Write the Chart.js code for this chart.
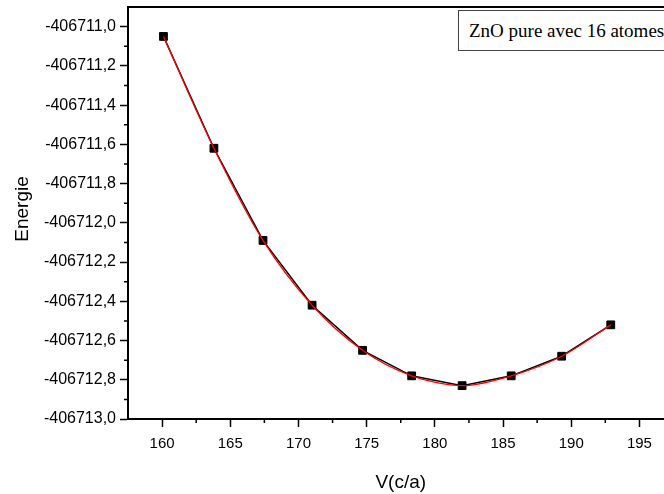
<!DOCTYPE html>
<html>
<head>
<meta charset="utf-8">
<script src="https://cdn.jsdelivr.net/npm/chart.js@4/dist/chart.umd.min.js"></script>
<style>
  html, body { margin: 0; padding: 0; background: #fff; overflow: hidden; width: 664px; height: 494px; }
  #wrap { position: relative; width: 680px; height: 494px; }
  #legendBox {
    position: absolute; left: 458px; top: 10px; width: 240px; height: 41px;
    border: 1px solid #444; background: #fff; box-sizing: border-box;
    font-family: "Liberation Serif", "Times New Roman", serif; font-size: 19px;
    line-height: 39px; padding-left: 10px; white-space: nowrap; color: #000;
  }
</style>
</head>
<body>
<div id="wrap">
  <canvas id="c" width="680" height="494"></canvas>
  <div id="legendBox">ZnO pure avec 16 atomes</div>
</div>
<script>
// ---- data ----
const volumes = [160.1, 163.8, 167.4, 171.0, 174.7, 178.3, 182.0, 185.6, 189.3, 192.9];
const energies = [-406711.05, -406711.62, -406712.09, -406712.42, -406712.65, -406712.78, -406712.83, -406712.78, -406712.68, -406712.52];
const xTickValues = [160, 165, 170, 175, 180, 185, 190, 195];
const xMinorTickValues = [162.5, 167.5, 172.5, 177.5, 182.5, 187.5, 192.5, 197.5];
const yTickValues = [-406713.0, -406712.8, -406712.6, -406712.4, -406712.2, -406712.0, -406711.8, -406711.6, -406711.4, -406711.2, -406711.0];
const yMinorTickValues = [-406712.9, -406712.7, -406712.5, -406712.3, -406712.1, -406711.9, -406711.7, -406711.5, -406711.3, -406711.1];
const xTitle = "V(c/a)";
const yTitle = "Energie";

const points = volumes.map((v, i) => ({ x: v, y: energies[i] }));

const extras = {
  id: 'extras',
  afterDraw(chart) {
    const ctx = chart.ctx;
    const xs = chart.scales.x, ys = chart.scales.y;
    const ca = chart.chartArea;
    ctx.save();
    ctx.strokeStyle = '#000';
    ctx.lineWidth = 1.5;
    ctx.beginPath();
    xMinorTickValues.forEach(v => {
      const px = xs.getPixelForValue(v);
      ctx.moveTo(px, ca.bottom); ctx.lineTo(px, ca.bottom + 4);
    });
    yMinorTickValues.forEach(v => {
      const py = ys.getPixelForValue(v);
      ctx.moveTo(ca.left, py); ctx.lineTo(ca.left - 4, py);
    });
    ctx.stroke();
    // top frame line
    ctx.lineWidth = 2;
    ctx.beginPath();
    ctx.moveTo(ca.left - 1, ca.top);
    ctx.lineTo(chart.width, ca.top);
    ctx.stroke();
    // y axis title
    ctx.fillStyle = '#000';
    ctx.font = '19px "Liberation Sans", Arial, sans-serif';
    ctx.textAlign = 'center';
    ctx.textBaseline = 'middle';
    ctx.translate(23, (ca.top + ca.bottom) / 2 - 4);
    ctx.rotate(-Math.PI / 2);
    ctx.fillText(yTitle, 0, 0);
    ctx.restore();
  }
};

const fmt = v => Number(v).toFixed(1).replace('.', ',');

new Chart(document.getElementById('c'), {
  type: 'line',
  data: {
    datasets: [
      {
        label: 'fit',
        data: points,
        borderColor: '#ff0000',
        borderWidth: 1.3,
        pointRadius: 0,
        tension: 0.3,
        fill: false,
        order: 0
      },
      {
        label: 'data',
        data: points,
        borderColor: '#000',
        borderWidth: 1.5,
        pointStyle: 'rect',
        pointRadius: 5.5,
        pointBorderWidth: 1,
        pointBackgroundColor: '#000',
        pointBorderColor: '#000',
        tension: 0,
        fill: false,
        order: 1
      }
    ]
  },
  options: {
    responsive: false,
    animation: false,
    layout: { padding: { top: 7, right: 6, left: 0, bottom: 0 } },
    plugins: { legend: { display: false }, tooltip: { enabled: false } },
    scales: {
      x: {
        type: 'linear',
        min: 157.5,
        max: 197.5,
        afterFit(s) { s.height = 75; s.paddingLeft = 0; s.paddingRight = 0; },
        afterBuildTicks(s) { s.ticks = xTickValues.map(v => ({ value: v })); },
        grid: { drawOnChartArea: false, tickLength: 8, tickColor: '#000', tickWidth: 1.5 },
        border: { display: true, color: '#000', width: 2 },
        ticks: {
          color: '#000', padding: 8,
          font: { family: 'Liberation Sans, Arial, sans-serif', size: 15 },
          callback: v => String(v)
        },
        title: {
          display: true, text: xTitle, color: '#000',
          font: { family: 'Liberation Sans, Arial, sans-serif', size: 19 },
          padding: { top: 4, bottom: 0 }
        }
      },
      y: {
        type: 'linear',
        min: -406713.0,
        max: -406710.9,
        afterFit(s) { s.width = 128; s.paddingTop = 0; s.paddingBottom = 0; },
        afterBuildTicks(s) { s.ticks = yTickValues.map(v => ({ value: v })); },
        grid: { drawOnChartArea: false, tickLength: 8, tickColor: '#000', tickWidth: 1.5 },
        border: { display: true, color: '#000', width: 2 },
        ticks: {
          color: '#000', padding: 4,
          font: { family: 'Liberation Sans, Arial, sans-serif', size: 16 },
          callback: v => fmt(v)
        },
        title: { display: false }
      }
    }
  },
  plugins: [extras]
});
</script>
</body>
</html>
